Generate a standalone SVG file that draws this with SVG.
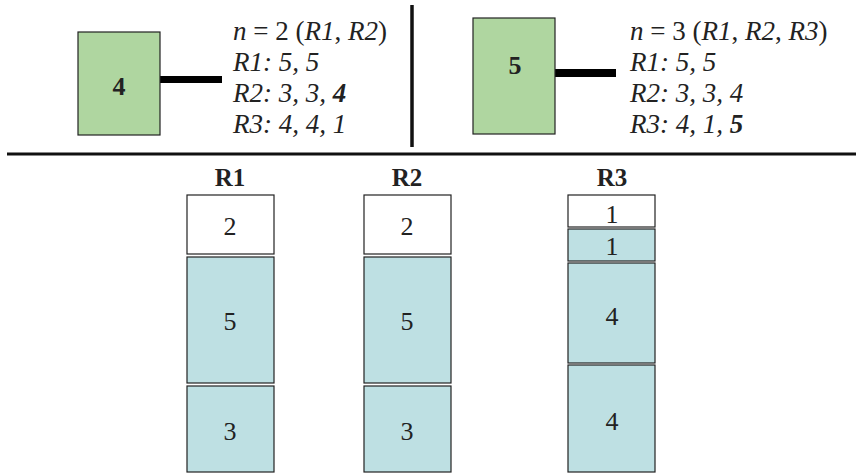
<svg xmlns="http://www.w3.org/2000/svg" width="857" height="473" viewBox="0 0 857 473">
<style>
.g{fill:#afd6a0;stroke:#222;stroke-width:1.2}
.w{fill:#fff;stroke:#222;stroke-width:1.2}
.b{fill:#bee0e3;stroke:#222;stroke-width:1.2}
text{font-family:'Liberation Serif','Times New Roman',Times,'DejaVu Serif',serif;fill:#222}
.t{font-size:27px}
.c{font-size:26px;text-anchor:middle}
.nb{font-size:26px;font-weight:bold;text-anchor:middle}
.h{font-size:25px;font-weight:bold;text-anchor:middle}
.i{font-style:italic}
.bi{font-style:italic;font-weight:bold}
</style>
<g id="connectors">
<rect x="160" y="76" width="62" height="7" fill="#000"/>
<rect x="555" y="69" width="61" height="8" fill="#000"/>
<line x1="412" y1="5" x2="412" y2="147" stroke="#111" stroke-width="3.5"/>
<line x1="7" y1="154" x2="856" y2="154" stroke="#111" stroke-width="3"/>
</g>
<g id="node-left">
<rect class="g" x="78" y="32" width="82" height="103"/>
<text class="nb" x="119" y="95">4</text>
</g>
<g id="text-left">
<text class="t" x="233" y="40"><tspan class="i">n</tspan> = 2 (<tspan class="i">R1</tspan>, <tspan class="i">R2</tspan>)</text>
<text class="t i" x="233" y="71">R1: 5, 5</text>
<text class="t i" x="233" y="102">R2: 3, 3, <tspan class="bi">4</tspan></text>
<text class="t i" x="233" y="133">R3: 4, 4, 1</text>
</g>
<g id="node-right">
<rect class="g" x="473" y="18" width="82" height="116"/>
<text class="nb" x="515" y="74">5</text>
</g>
<g id="text-right">
<text class="t" x="630" y="40"><tspan class="i">n</tspan> = 3 (<tspan class="i">R1</tspan>, <tspan class="i">R2</tspan>, <tspan class="i">R3</tspan>)</text>
<text class="t i" x="630" y="71">R1: 5, 5</text>
<text class="t i" x="630" y="102">R2: 3, 3, 4</text>
<text class="t i" x="630" y="133">R3: 4, 1, <tspan class="bi">5</tspan></text>
</g>
<g id="col-R1">
<text class="h" x="230" y="186">R1</text>
<rect class="w" x="187" y="195" width="87" height="59"/>
<text class="c" x="230" y="235">2</text>
<rect class="b" x="187" y="257" width="87" height="126"/>
<text class="c" x="230" y="330">5</text>
<rect class="b" x="187" y="386" width="87" height="86"/>
<text class="c" x="230" y="440">3</text>
</g>
<g id="col-R2">
<text class="h" x="407" y="186">R2</text>
<rect class="w" x="364" y="195" width="87" height="59"/>
<text class="c" x="407" y="235">2</text>
<rect class="b" x="364" y="257" width="87" height="126"/>
<text class="c" x="407" y="330">5</text>
<rect class="b" x="364" y="386" width="87" height="86"/>
<text class="c" x="407" y="440">3</text>
</g>
<g id="col-R3">
<text class="h" x="612" y="186">R3</text>
<rect class="w" x="568" y="195" width="87" height="32"/>
<text class="c" x="612" y="223">1</text>
<rect class="b" x="568" y="229" width="87" height="32"/>
<text class="c" x="612" y="255">1</text>
<rect class="b" x="568" y="263" width="87" height="100"/>
<text class="c" x="612" y="325">4</text>
<rect class="b" x="568" y="365" width="87" height="107"/>
<text class="c" x="612" y="430">4</text>
</g>
</svg>
